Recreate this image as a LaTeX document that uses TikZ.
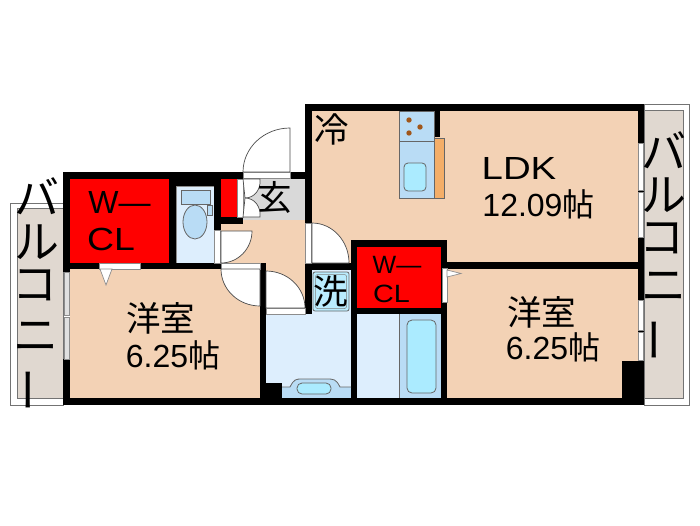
\documentclass[tikz,border=0pt]{standalone}
\usepackage{fontspec}
\setmainfont{Liberation Sans}
\newfontfamily\jp{Noto Sans CJK JP}
\usetikzlibrary{calc}
\definecolor{peach}{HTML}{F3D2B5}
\definecolor{balc}{HTML}{E0D8D0}
\definecolor{paleblue}{HTML}{DDEEFD}
\definecolor{midblue}{HTML}{B9DCF5}
\definecolor{tubblue}{HTML}{ABEBFF}
\definecolor{cntr}{HTML}{F4AE68}
\definecolor{foyer}{HTML}{D9D9D9}
\definecolor{redcl}{HTML}{FF0000}
\definecolor{burner}{HTML}{A0561A}
\tikzset{
  wall/.style={fill=black},
  room/.style={fill=peach},
  fixture/.style={draw=black!60!white,line width=0.8pt},
  strip/.style={fill=white,draw=black!45!white,line width=0.7pt},
  doorleaf/.style={fill=white,draw=black!70!white,line width=0.7pt},
  lab/.style={inner sep=0pt,outer sep=0pt,text=black,font=\fontsize{32}{32}\selectfont},
  jplab/.style={inner sep=0pt,outer sep=0pt,text=black,font=\fontsize{34.5}{34.5}\selectfont\jp},
  balclab/.style={inner sep=0pt,outer sep=0pt,text=black,font=\fontsize{45}{45}\selectfont\jp},
  smalllab/.style={inner sep=0pt,outer sep=0pt,text=black,font=\fontsize{25}{25}\selectfont},
}
% hinge, end a, end b of a quarter-circle door
\newcommand{\doorpie}[6]{%
  \coordinate (dh) at (#1,#2);\coordinate (da) at (#3,#4);\coordinate (db) at (#5,#6);
  \draw[doorleaf] (dh) -- (da) .. controls ($(da)+0.5523*(db)-0.5523*(dh)$) and ($(db)+0.5523*(da)-0.5523*(dh)$) .. (db) -- cycle;}
\begin{document}
\begin{tikzpicture}[x=1pt,y=-1pt]
\useasboundingbox (0,0) rectangle (700,525);
\fill[white] (0,0) rectangle (700,525);
% balconies
\draw[black!55!white,line width=0.8pt] (10.5,203.5) rectangle (63,405);
\draw[balc,fill=balc] (17,208) rectangle (63,398);
\draw[black!55!white,line width=0.8pt] (17,208) rectangle (63,398);
\draw[black!55!white,line width=0.8pt] (644,104) rectangle (689,405);
\fill[balc] (644,110) rectangle (683,398);
\draw[black!55!white,line width=0.8pt] (644,110) rectangle (683,398);
% rooms
\fill[room] (70,269) rectangle (260,398);
\fill[room] (312,111) rectangle (638,263);
\fill[room] (447,269) rectangle (638,398);
\fill[room] (221,220) rectangle (305,263);
\fill[room] (260,263) rectangle (305,308);
\fill[foyer] (243,179) rectangle (305,220);
\fill[redcl] (70,179) rectangle (169,263);
\fill[redcl] (221,179) rectangle (237,217);
\fill[redcl] (357,247) rectangle (441,308);
% wet rooms
\fill[paleblue] (176,186) rectangle (214,263);
\draw[black!45!white,line width=0.6pt] (176,186) rectangle (214,263);
\fill[paleblue] (266,314) rectangle (351,398);
\fill[paleblue] (312,270) rectangle (351,314);
\fill[paleblue] (357,314) rectangle (399,398);
\fill[midblue] (399,314) rectangle (441,398);
\draw[black!60!white,line width=0.8pt] (399,314) -- (399,398);
\draw[fixture,fill=tubblue,rounded corners=5pt] (407,320) rectangle (436,393);
% walls
\fill[wall] (63,172) rectangle (243,179);
\fill[wall] (290,172) rectangle (305,179);
\fill[wall] (169,172) rectangle (221,186);
\fill[wall] (63,172) rectangle (70,272);
\fill[wall] (63,359) rectangle (70,405);
\fill[wall] (169,172) rectangle (176,269);
\fill[wall] (214,172) rectangle (221,230);
\fill[wall] (70,263) rectangle (221,269);
\fill[wall] (221,217) rectangle (243,224);
\fill[wall] (260,263) rectangle (266,405);
\fill[wall] (63,398) rectangle (644,405);
\fill[wall] (305,104) rectangle (644,111);
\fill[wall] (305,104) rectangle (312,223);
\fill[wall] (305,263) rectangle (351,270);
\fill[wall] (305,263) rectangle (312,314);
\fill[wall] (351,240) rectangle (447,247);
\fill[wall] (351,240) rectangle (357,405);
\fill[wall] (441,240) rectangle (447,405);
\fill[wall] (351,308) rectangle (447,314);
\fill[wall] (447,262) rectangle (644,269);
\fill[wall] (638,104) rectangle (644,405);
\fill[wall] (622,361) rectangle (644,405);
\fill[wall] (266,383) rectangle (282,398);
\fill[wall] (434,104) rectangle (440,137);
% windows
\draw[strip,fill=black!12!white] (64,272) rectangle (69,315);
\draw[strip,fill=black!12!white] (64,317) rectangle (69,359);
\draw[strip] (638.5,143) rectangle (643.5,190);
\draw[strip] (638.5,192) rectangle (643.5,237);
\draw[strip] (638.5,300) rectangle (643.5,330);
\draw[strip] (638.5,332) rectangle (643.5,360);
% door openings
\draw[strip] (243,172.5) rectangle (290,178.5);
\draw[strip] (237.5,179) rectangle (243,217);
\draw[strip] (214.5,230) rectangle (220.5,263);
\draw[strip] (221,263.5) rectangle (260,269);
\draw[strip] (305.5,223) rectangle (311.5,263);
\draw[strip] (266,308.5) rectangle (305,314);
\draw[strip] (442,268) rectangle (447,302);
\draw[strip] (99,263.5) rectangle (140,269);
\draw[strip] (100,269) -- (112,269) -- (106,285) -- cycle;
\draw[strip] (447,270) -- (461,273.5) -- (447,277) -- cycle;
% door leaves
\doorpie{290}{172}{290}{128}{243}{172}
\doorpie{243}{179}{260}{179}{245}{198}
\doorpie{243}{217}{260}{217}{245}{198}
\doorpie{221}{231}{252}{231}{221}{263}
\doorpie{260}{269}{221}{269}{260}{306}
\doorpie{266}{308}{266}{271}{305}{308}
\doorpie{312}{263}{312}{223}{349}{263}
% toilet
\draw[fixture,fill=midblue] (181,190) rectangle (210,204);
\draw[fixture,fill=midblue] (207,205) rectangle (212,215);
\draw[fixture,fill=midblue] (195,222) ellipse [x radius=12,y radius=17];
% kitchen
\draw[fixture,fill=midblue] (399,111) rectangle (434,198);
\draw[fixture] (399,141) -- (434,141);
\draw[fixture,fill=tubblue,rounded corners=4pt] (404,163) rectangle (426,191);
\draw[fixture,fill=cntr] (434,138) rectangle (444,198);
\fill[burner] (409,120) circle (2.7);
\fill[burner] (420,127) circle (2.7);
\fill[burner] (409,133) circle (2.7);
% washbasin
\fill[midblue] (282,387) rectangle (351,398);
\draw[fixture,fill=midblue] (282,387) -- (290,387) .. controls (294,379) and (296,379) .. (302,379) -- (326,379) .. controls (334,379) and (336,379) .. (340,387) -- (351,387);
\draw[fixture,fill=tubblue,rounded corners=5pt] (297,383) rectangle (331,394);
% washing machine pan
\draw[fixture,fill=tubblue!70!paleblue,rounded corners=2pt] (313,272) rectangle (349,311);
\draw[black!50!white,line width=0.5pt,rounded corners=2pt] (315.5,274.5) rectangle (346.5,308.5);
% labels
\node[lab] (cla1) at (119.5,202) {W—};
\node[lab,xscale=1.17] (cla2) at (111,239.5) {CL};
\node[smalllab] (clb1) at (397,265) {W—};
\node[smalllab,xscale=1.15] (clb2) at (391.5,293.5) {CL};
\node[lab,xscale=1.2] (ldk) at (519,168) {LDK};
\node[lab] (ldka) at (538.5,204) {12.09{\jp 帖}};
\node[jplab] (wa) at (160.5,318) {洋室};
\node[lab] (wb) at (173,355) {6.25{\jp 帖}};
\node[jplab] (ea) at (541.5,312) {洋室};
\node[lab] (eb) at (553,347) {6.25{\jp 帖}};
\node[jplab] (rei) at (332,129) {冷};
\node[jplab] (gen) at (275,197) {玄};
\node[jplab] (sen) at (331,291) {洗};
% balcony text, left
\node[balclab] (l1) at (37,196) {バ};
\node[balclab] (l2) at (37,242) {ル};
\node[balclab] (l3) at (35,285) {コ};
\node[balclab] (l4) at (36,337) {ニ};
\node[balclab,rotate=90] (l5) at (36,390) {ー};
% balcony text, right
\node[balclab] (r1) at (664,150) {バ};
\node[balclab] (r2) at (664,195) {ル};
\node[balclab] (r3) at (662,238) {コ};
\node[balclab] (r4) at (664,287) {ニ};
\node[balclab,rotate=90] (r5) at (662,340) {ー};
\end{tikzpicture}
\end{document}
